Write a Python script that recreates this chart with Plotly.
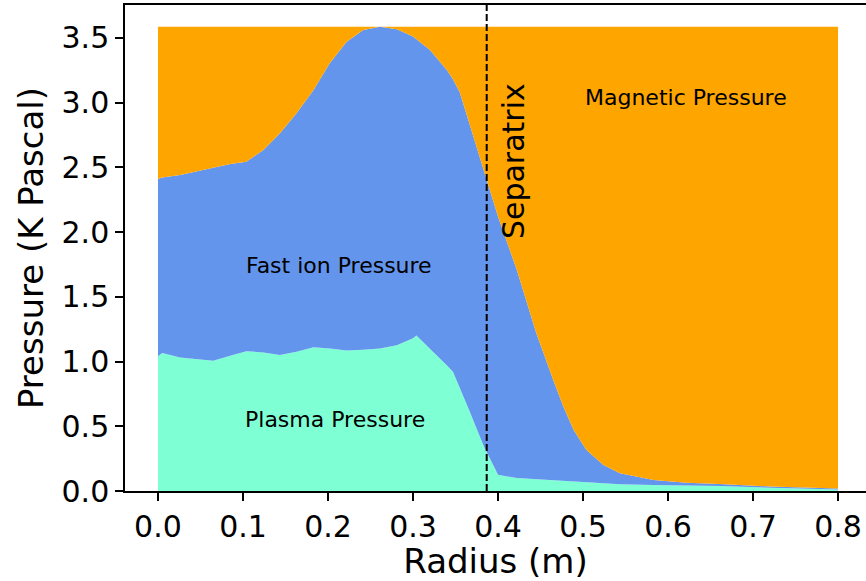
import plotly.graph_objects as go

# Radius grid (m)
radius = [0.0, 0.005, 0.026, 0.065, 0.085, 0.104, 0.124, 0.1435, 0.163, 0.183, 0.202,
          0.222, 0.2415, 0.261, 0.281, 0.30, 0.304, 0.32, 0.34, 0.347, 0.355, 0.365,
          0.383, 0.40, 0.422, 0.445, 0.465, 0.477, 0.489, 0.504, 0.524, 0.5435,
          0.583, 0.622, 0.661, 0.72, 0.80]

# Pressures (K Pascal)
plasma = [1.04, 1.065, 1.03, 1.005, 1.045, 1.08, 1.07, 1.05, 1.075, 1.11, 1.10,
          1.085, 1.09, 1.10, 1.125, 1.18, 1.20, 1.10, 0.97, 0.92, 0.80, 0.64,
          0.35, 0.125, 0.10, 0.092, 0.085, 0.08, 0.075, 0.068, 0.06, 0.052,
          0.046, 0.042, 0.039, 0.025, 0.012]
fast_ion = [1.37, 1.355, 1.41, 1.495, 1.48, 1.463, 1.563, 1.712, 1.842, 1.987, 2.203,
            2.385, 2.47, 2.485, 2.44, 2.33, 2.29, 2.305, 2.28, 2.26, 2.28, 2.23,
            2.13, 1.995, 1.61, 1.128, 0.772, 0.571, 0.396, 0.249, 0.14, 0.085,
            0.039, 0.022, 0.015, 0.01, 0.008]
magnetic = [1.175, 1.165, 1.145, 1.085, 1.06, 1.042, 0.952, 0.823, 0.668, 0.488, 0.282,
            0.115, 0.025, 0.0, 0.02, 0.075, 0.095, 0.18, 0.335, 0.405, 0.505, 0.715,
            1.105, 1.465, 1.875, 2.365, 2.728, 2.934, 3.114, 3.268, 3.385, 3.448,
            3.50, 3.521, 3.531, 3.55, 3.565]

separatrix_r = 0.3867

series_names = ["Plasma Pressure", "Fast ion Pressure", "Magnetic Pressure"]
series_colors = ["#7FFFD4", "#6495ED", "#FFA500"]
label_pos = [(0.208, 0.55), (0.213, 1.74), (0.621, 3.04)]

fig = go.Figure()
for name, vals, col in zip(series_names, [plasma, fast_ion, magnetic], series_colors):
    fig.add_trace(go.Scatter(
        x=radius, y=vals, name=name, stackgroup="p", mode="lines",
        line=dict(width=0, color=col), fillcolor=col, showlegend=False,
    ))

fig.add_shape(type="line", x0=separatrix_r, x1=separatrix_r, xref="x",
              y0=0, y1=1, yref="paper",
              line=dict(color="black", width=2, dash="7px,3px"))

font = "DejaVu Sans, Verdana, sans-serif"
for name, (lx, ly) in zip(series_names, label_pos):
    fig.add_annotation(x=lx, y=ly, xref="x", yref="y", text=name, showarrow=False,
                       font=dict(family=font, size=22, color="black"))
fig.add_annotation(x=0.418, y=2.55, xref="x", yref="y", text="Separatrix",
                   showarrow=False, textangle=-90,
                   font=dict(family=font, size=30, color="black"))

fig.update_layout(
    width=866, height=581,
    margin=dict(l=125, r=0, t=5, b=90),
    plot_bgcolor="white", paper_bgcolor="white",
    font=dict(family=font, color="black"),
    xaxis=dict(range=[-0.0388, 0.8329], tick0=0, dtick=0.1, tickformat=".1f",
               showgrid=False, zeroline=False, showline=True, linecolor="black",
               linewidth=1.5, mirror=True, ticks="outside", ticklen=8, tickwidth=1.5,
               tickcolor="black", tickfont=dict(size=30),
               title=dict(text="Radius (m)", font=dict(size=34), standoff=8)),
    yaxis=dict(range=[0, 3.753], tick0=0, dtick=0.5, tickformat=".1f",
               showgrid=False, zeroline=False, showline=True, linecolor="black",
               linewidth=1.5, ticks="outside", ticklen=8, tickwidth=1.5,
               tickcolor="black", tickfont=dict(size=30),
               title=dict(text="Pressure (K Pascal)", font=dict(size=34), standoff=8)),
)

fig.write_html("out.html")
